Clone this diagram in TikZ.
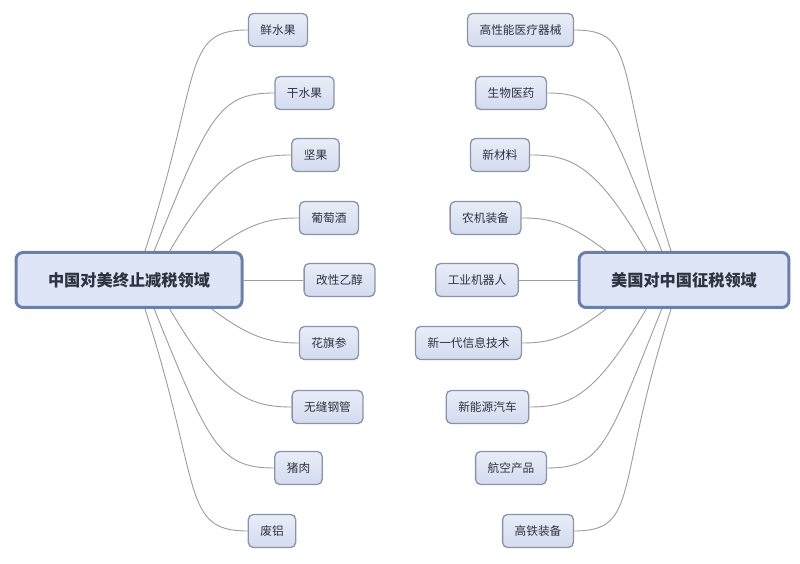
\documentclass[tikz,border=0pt]{standalone}
\usepackage{fontspec}
\setmainfont{Noto Sans CJK SC}
\usetikzlibrary{calc,backgrounds}
\definecolor{leafline}{HTML}{8A93A8}
\definecolor{leaftop}{HTML}{E9EDF8}
\definecolor{leafbot}{HTML}{D3DBEF}
\definecolor{hubline}{HTML}{6A80AA}
\definecolor{hubfill}{HTML}{DDE5F6}
\definecolor{linkc}{HTML}{9C9C9C}
\definecolor{txt}{HTML}{2E3340}
\begin{document}
\begin{tikzpicture}[x=1pt,y=1pt,
  leaf/.style={draw=leafline, line width=1.3pt, rounded corners=5pt, top color=leaftop, bottom color=leafbot,
    minimum height=33pt, inner xsep=12pt, font=\fontsize{11.7}{14}\selectfont, text=txt},
  hub/.style={draw=hubline, line width=3pt, rounded corners=7pt, fill=hubfill,
    minimum height=55pt, inner xsep=32pt, font=\fontsize{16.2}{20}\selectfont\bfseries, text=txt},
  link/.style={draw=linkc, line width=0.9pt}]
\useasboundingbox (0,0) rectangle (800,564);

\node[hub] (L) at (129,284) {中国对美终止减税领域};
\node[hub] (R) at (684,284) {美国对中国征税领域};

\node[leaf] (a1) at (278,534) {鲜水果};
\node[leaf] (a2) at (304.5,471) {干水果};
\node[leaf] (a3) at (315.5,409) {坚果};
\node[leaf] (a4) at (329,346) {葡萄酒};
\node[leaf] (a5) at (339.5,284) {改性乙醇};
\node[leaf] (a6) at (329,221) {花旗参};
\node[leaf] (a7) at (327.5,157) {无缝钢管};
\node[leaf] (a8) at (298.5,96) {猪肉};
\node[leaf] (a9) at (272,33) {废铝};

\node[leaf] (b1) at (520.5,534) {高性能医疗器械};
\node[leaf] (b2) at (511,471) {生物医药};
\node[leaf] (b3) at (500,409) {新材料};
\node[leaf] (b4) at (485.5,346) {农机装备};
\node[leaf] (b5) at (477,284) {工业机器人};
\node[leaf] (b6) at (468.5,221) {新一代信息技术};
\node[leaf] (b7) at (487.5,157) {新能源汽车};
\node[leaf] (b8) at (511,96) {航空产品};
\node[leaf] (b9) at (538,33) {高铁装备};

\begin{scope}[on background layer]
\draw[link] ($(L.north)+(15,-3)$) .. controls +(72:190) and +(-67,0) .. (a1.west);
\draw[link] ($(L.north)+(24,-3)$) .. controls +(68:148) and +(-56,0) .. (a2.west);
\draw[link] ($(L.north)+(39,-3)$) .. controls +(60:103) and +(-42,0) .. (a3.west);
\draw[link] ($(L.north)+(79,-3)$) .. controls +(38:53) and +(-27,0) .. (a4.west);
\draw[link] (L.east) -- (a5.west);
\draw[link] ($(L.south)+(79,3)$) .. controls +(-38:53) and +(-27,0) .. (a6.west);
\draw[link] ($(L.south)+(39,3)$) .. controls +(-60:103) and +(-42,0) .. (a7.west);
\draw[link] ($(L.south)+(24,3)$) .. controls +(-68:148) and +(-56,0) .. (a8.west);
\draw[link] ($(L.south)+(15,3)$) .. controls +(-72:190) and +(-67,0) .. (a9.west);

\draw[link] ($(R.north)+(-12,-3)$) .. controls +(108:190) and +(67,0) .. (b1.east);
\draw[link] ($(R.north)+(-21,-3)$) .. controls +(112:148) and +(56,0) .. (b2.east);
\draw[link] ($(R.north)+(-36,-3)$) .. controls +(120:103) and +(42,0) .. (b3.east);
\draw[link] ($(R.north)+(-74,-3)$) .. controls +(142:53) and +(27,0) .. (b4.east);
\draw[link] (b5.east) -- (R.west);
\draw[link] ($(R.south)+(-74,3)$) .. controls +(-142:53) and +(27,0) .. (b6.east);
\draw[link] ($(R.south)+(-36,3)$) .. controls +(-120:103) and +(42,0) .. (b7.east);
\draw[link] ($(R.south)+(-21,3)$) .. controls +(-112:148) and +(56,0) .. (b8.east);
\draw[link] ($(R.south)+(-12,3)$) .. controls +(-108:190) and +(67,0) .. (b9.east);
\end{scope}
\end{tikzpicture}
\end{document}
